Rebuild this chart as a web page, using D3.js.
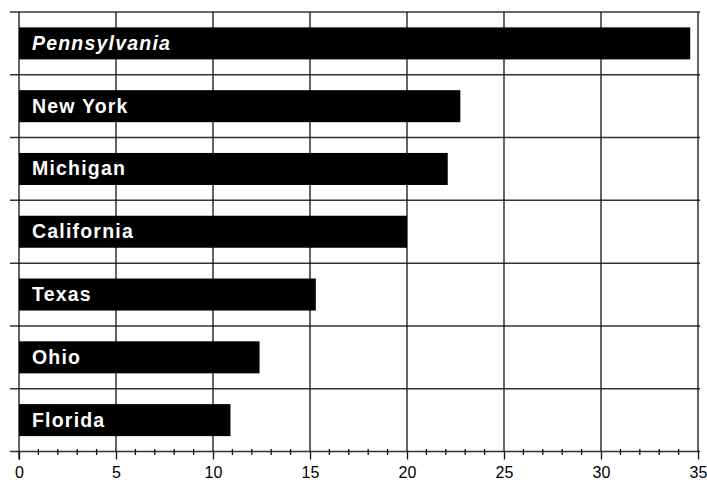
<!DOCTYPE html>
<html>
<head>
<meta charset="utf-8">
<script src="https://cdn.jsdelivr.net/npm/d3@7"></script>
<style>
  body { margin: 0; background: #fff; }
  svg { display: block; }
</style>
</head>
<body>
<svg id="drawing_region"></svg>
<script>
const states = ["Pennsylvania", "New York", "Michigan", "California", "Texas", "Ohio", "Florida"];
const values = [34.6, 22.75, 22.1, 20.0, 15.3, 12.4, 10.9];
const xTicks = [0, 5, 10, 15, 20, 25, 30, 35];

const config = {
    parent: '#drawing_region',
    width: 707,
    height: 480,
    left: 19,
    right: 698,
    top: 12,
    bottom: 451.5
};

const data = states.map((s, i) => ({ name: s, value: values[i] }));

const svg = d3.select(config.parent)
    .attr('width', config.width)
    .attr('height', config.height);

const x = d3.scaleLinear()
    .domain([0, 35])
    .range([config.left, config.right]);

const y = d3.scaleBand()
    .domain(states)
    .range([config.top, config.bottom])
    .paddingInner(0.49)
    .paddingOuter(0.245);

const step = y.step();
const bounds = d3.range(states.length + 1).map(i => config.top + i * step);

// horizontal lines between categories
svg.append('g')
    .selectAll('line')
    .data(bounds)
    .join('line')
    .attr('x1', 10)
    .attr('x2', 700)
    .attr('y1', d => d)
    .attr('y2', d => d)
    .attr('stroke', '#333')
    .attr('stroke-width', 1.5);

// vertical grid
svg.append('g')
    .selectAll('line')
    .data(xTicks.slice(1))
    .join('line')
    .attr('x1', d => x(d))
    .attr('x2', d => x(d))
    .attr('y1', config.top)
    .attr('y2', config.bottom)
    .attr('stroke', '#111')
    .attr('stroke-width', 1.3);

// minor ticks
const minor = d3.range(0, 36).filter(d => d % 5 !== 0);
svg.append('g')
    .selectAll('line')
    .data(minor)
    .join('line')
    .attr('x1', d => x(d))
    .attr('x2', d => x(d))
    .attr('y1', config.bottom - 2.5)
    .attr('y2', config.bottom + 3.5)
    .attr('stroke', '#111')
    .attr('stroke-width', 1.3);

// x axis
const xAxis = d3.axisBottom(x)
    .tickValues(xTicks)
    .tickFormat(d3.format('d'))
    .tickSize(8)
    .tickPadding(7);

const gx = svg.append('g')
    .attr('transform', `translate(0,${config.bottom})`)
    .call(xAxis);
gx.select('.domain').remove();
gx.selectAll('.tick line').attr('stroke', '#111').attr('stroke-width', 1.3);
gx.selectAll('.tick text')
    .attr('fill', '#000')
    .attr('font-family', '"Liberation Sans", Arial, sans-serif')
    .attr('font-size', 16);

// y axis line
svg.append('line')
    .attr('x1', x(0))
    .attr('x2', x(0))
    .attr('y1', config.top)
    .attr('y2', config.bottom + 8)
    .attr('stroke', '#111')
    .attr('stroke-width', 1.3);

// bars
svg.append('g')
    .selectAll('rect')
    .data(data)
    .join('rect')
    .attr('x', x(0))
    .attr('y', d => y(d.name))
    .attr('width', d => x(d.value) - x(0))
    .attr('height', y.bandwidth())
    .attr('fill', '#000');

// labels
svg.append('g')
    .selectAll('text')
    .data(data)
    .join('text')
    .attr('x', 32)
    .attr('y', d => y(d.name) + y.bandwidth() / 2 + 6.5)
    .attr('fill', '#fff')
    .style('font-family', '"Liberation Sans", Arial, sans-serif')
    .style('font-size', '19.5px')
    .style('font-weight', 'bold')
    .style('letter-spacing', '1.2px')
    .style('font-style', (d, i) => i === 0 ? 'italic' : 'normal')
    .text(d => d.name);
</script>
</body>
</html>
